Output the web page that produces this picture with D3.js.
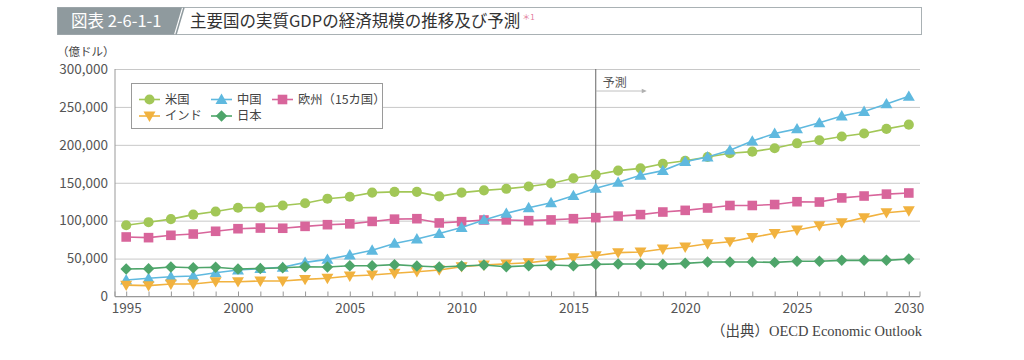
<!DOCTYPE html>
<html><head><meta charset="utf-8">
<script src="https://cdn.jsdelivr.net/npm/d3@7"></script>
<style>
body{margin:0;background:#fff;}
svg{display:block;font-family:"Noto Sans CJK JP","Noto Sans",sans-serif;}
</style></head>
<body><svg id="c" width="1024" height="360"></svg>
<script>
const years = d3.range(1995, 2031);
const yTicks = [0, 50000, 100000, 150000, 200000, 250000, 300000];
const xLabelYears = [1995, 2000, 2005, 2010, 2015, 2020, 2025, 2030];
const forecastYear = 2016;
const seriesNames = ["米国", "中国", "欧州（15カ国）", "インド", "日本"];
// values in 千億ドル (multiplied by 1000 to get 億ドル)
const usa = [94,98,102,108,112,117,117.5,120,123,129,131.5,137,138,138,132,137,140,142,145,149,156,160.5,166,169,175,179,184,189,191,195.5,202,206,211,215,221,226.6];
const china = [21.8,24,26,27,31.4,35,36.7,38.5,45,49,54.7,61,70,75.8,83,91,101,109.7,117,123.7,133,142.7,150.6,159.8,166,177.8,184,193,205,215,221,229,238,244,254,264];
const eu15 = [78.5,77.6,80.7,82.4,86,89.4,90.3,90,92.5,94.7,95.8,99,102,102.6,97,98.7,100.9,101,100,101,102.6,104,106,108,111.4,113.6,116.7,120,120,121.3,125,124.6,130,132.5,135,136.5];
const india = [15,14.3,16.5,16.5,19.5,19.5,20.4,20.4,22.6,24,27,28.4,30.6,32.7,35,39.3,41.5,43,44.6,48,51,53.8,57.8,58.7,62.6,65.3,69.6,72.3,78,83.3,87.7,93.4,97.3,104,110.5,113];
const japan = [36.3,36.7,38.9,38,38.5,36.3,37,38,39.3,38.9,40.6,40.6,42,40.2,38.9,40.2,41.5,39.3,40.6,41.5,40.6,42.4,42.9,42.9,42.4,43.7,45.5,45.5,45.5,45,46.4,46.4,47.7,47.7,47.7,49.5];

const svg = d3.select("#c");
const L = 115, R = 920, T = 69, B = 296.5;
const x = d3.scaleLinear().domain([1994.5, 2030.5]).range([L, R]);
const y = d3.scaleLinear().domain([0, 300000]).range([B, T]);

const series = [
  {name: seriesNames[0], vals: usa,   color: "#a2c757", sym: d3.symbolCircle, size: 80, rot: 0},
  {name: seriesNames[1], vals: china, color: "#5fb9df", sym: d3.symbolTriangle, size: 62, rot: 0},
  {name: seriesNames[2], vals: eu15,  color: "#d8659b", sym: d3.symbolSquare, size: 92, rot: 0},
  {name: seriesNames[3], vals: india, color: "#f1b23f", sym: d3.symbolTriangle, size: 62, rot: 180},
  {name: seriesNames[4], vals: japan, color: "#4ea56a", sym: d3.symbolSquare, size: 66, rot: 45}
];

// Title banner
const tb = svg.append("g");
tb.append("rect").attr("x", 57.5).attr("y", 7.5).attr("width", 864).attr("height", 27)
  .attr("fill", "#fff").attr("stroke", "#a9b1b4");
tb.append("path").attr("d", "M57.5,7.5 L182,7.5 L174,34.5 L57.5,34.5 Z").attr("fill", "#8f9a9e");
tb.append("path").attr("d", "M184,7.5 L176,34.5").attr("stroke", "#8f9a9e").attr("stroke-width", 1.5);
tb.append("text").attr("x", 71).attr("y", 27).attr("fill", "#fff").attr("font-size", 16.5).text("図表 2-6-1-1");
const tt = tb.append("text").attr("x", 190).attr("y", 27).attr("fill", "#333").attr("font-size", 16.5);
tt.append("tspan").text("主要国の実質GDPの経済規模の推移及び予測");
tt.append("tspan").attr("dy", -7).attr("font-size", 8).attr("fill", "#e27a9a").attr("dx", 2).text("＊1");

// gridlines + y axis
const yAxis = d3.axisLeft(y).tickValues(yTicks).tickFormat(d3.format(",")).tickSize(-(R - L)).tickPadding(7);
const gy = svg.append("g").attr("transform", `translate(${L},0)`).call(yAxis);
gy.select(".domain").remove();
gy.selectAll(".tick line").attr("stroke", "#c8c8c8").attr("stroke-width", 1);
gy.selectAll(".tick text").attr("fill", "#555").attr("font-size", 13.5)
  .attr("font-family", "'Noto Sans CJK JP', sans-serif");
svg.append("line").attr("x1", L).attr("x2", L).attr("y1", T).attr("y2", B).attr("stroke", "#999");

// x axis
const xAxis = d3.axisBottom(x).tickValues(years).tickSize(-5).tickPadding(7)
  .tickFormat(d => xLabelYears.includes(d) ? d : "");
const gx = svg.append("g").attr("transform", `translate(0,${B})`).call(xAxis);
gx.select(".domain").attr("stroke", "#999").attr("d", `M${L},-5V0H${R}V-5`);
gx.selectAll(".tick line").attr("stroke", "#999");
gx.selectAll(".tick text").attr("fill", "#555").attr("font-size", 13.5)
  .attr("font-family", "'Noto Sans CJK JP', sans-serif");

// unit label
svg.append("text").attr("x", 57).attr("y", 56).attr("font-size", 11.5).attr("fill", "#444").text("（億ドル）");

// forecast line
svg.append("line").attr("x1", x(forecastYear)).attr("x2", x(forecastYear)).attr("y1", T).attr("y2", B)
  .attr("stroke", "#666").attr("stroke-width", 1);
svg.append("text").attr("x", x(forecastYear) + 7).attr("y", 87).attr("font-size", 12).attr("fill", "#555").text("予測");
svg.append("line").attr("x1", x(forecastYear)).attr("x2", x(forecastYear) + 47).attr("y1", 91).attr("y2", 91)
  .attr("stroke", "#b0b0b0").attr("stroke-width", 0.8);
svg.append("path").attr("d", `M${x(forecastYear)+51},91 l-5,-2.2 v4.4 Z`).attr("fill", "#b0b0b0");

// series
const line = d3.line().x((d, i) => x(years[i])).y(d => y(d * 1000));
const order = [0, 2, 1, 3, 4];
order.forEach(k => {
  const s = series[k];
  const g = svg.append("g");
  g.append("path").attr("d", line(s.vals)).attr("fill", "none").attr("stroke", s.color).attr("stroke-width", 1.6);
  g.selectAll("path.m").data(s.vals).join("path").attr("class", "m")
    .attr("d", d3.symbol().type(s.sym).size(s.size))
    .attr("transform", (d, i) => `translate(${x(years[i])},${y(d * 1000) + (s.sym === d3.symbolTriangle ? (s.rot ? -1 : 1) : 0)}) rotate(${s.rot})`)
    .attr("fill", s.color);
});

// legend
const lg = svg.append("g");
lg.append("rect").attr("x", 131.5).attr("y", 83.5).attr("width", 251).attr("height", 45)
  .attr("fill", "#fff").attr("stroke", "#9a9a9a");
const legPos = [[139, 99.5], [211, 99.5], [272, 99.5], [139, 116], [211, 116]];
series.forEach((s, k) => {
  const [lx, ly] = legPos[k];
  lg.append("line").attr("x1", lx).attr("x2", lx + 21).attr("y1", ly).attr("y2", ly).attr("stroke", s.color).attr("stroke-width", 1.6);
  lg.append("path").attr("d", d3.symbol().type(s.sym).size(s.size))
    .attr("transform", `translate(${lx + 10.5},${ly + (s.sym === d3.symbolTriangle ? (s.rot ? -1 : 1) : 0)}) rotate(${s.rot})`).attr("fill", s.color);
  lg.append("text").attr("x", lx + 26).attr("y", ly + 4.3).attr("font-size", 12.3).attr("fill", "#444").text(s.name);
});

// source
svg.append("text").attr("x", 922).attr("y", 336).attr("text-anchor", "end").attr("font-size", 14.5)
  .attr("fill", "#444").attr("font-family", "'Liberation Serif','Noto Sans CJK JP',serif")
  .text("（出典）OECD Economic Outlook");
</script></body></html>
